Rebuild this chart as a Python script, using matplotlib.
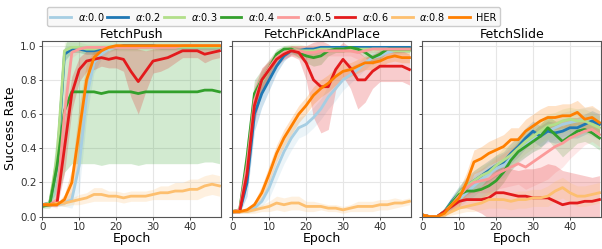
#!/usr/bin/env python3
import numpy as np
import matplotlib
matplotlib.use('Agg')
import matplotlib.pyplot as plt

# epochs sampled every 2
EPOCHS = np.arange(0, 50, 2)

LABELS = [r'$\alpha$:0.0', r'$\alpha$:0.2', r'$\alpha$:0.3', r'$\alpha$:0.4',
          r'$\alpha$:0.5', r'$\alpha$:0.6', r'$\alpha$:0.8', 'HER']
COLORS = ['#a6cee3', '#1f78b4', '#b2df8a', '#33a02c',
          '#fb9a99', '#e31a1c', '#fdbf6f', '#ff7f00']
TITLES = ['FetchPush', 'FetchPickAndPlace', 'FetchSlide']

# === FetchPush ===
push_a00 = [0.07, 0.07, 0.07, 0.08, 0.10, 0.30, 0.70, 0.90, 0.95, 0.98, 0.99, 0.99, 0.99,
            0.99, 0.99, 0.99, 0.99, 0.99, 0.99, 1.00, 0.99, 0.99, 0.99, 0.99, 0.99]
push_a00_sd = [0.01, 0.01, 0.01, 0.02, 0.05, 0.15, 0.12, 0.06, 0.03, 0.02, 0.01, 0.01, 0.01,
               0.01, 0.01, 0.01, 0.01, 0.01, 0.01, 0.01, 0.01, 0.01, 0.01, 0.01, 0.01]
push_a02 = [0.07, 0.08, 0.30, 0.95, 0.98, 0.98, 0.97, 0.97, 0.98, 0.99, 0.99, 1.00, 1.00,
            1.00, 1.00, 1.00, 0.99, 0.99, 0.99, 0.99, 0.99, 0.99, 0.99, 0.99, 0.99]
push_a02_sd = [0.01, 0.01, 0.15, 0.04, 0.02, 0.02, 0.02, 0.02, 0.01, 0.01, 0.01, 0.01, 0.01,
               0.01, 0.01, 0.01, 0.01, 0.01, 0.01, 0.01, 0.01, 0.01, 0.01, 0.01, 0.01]
push_a03 = [0.07, 0.08, 0.35, 0.97, 0.99, 0.99, 0.98, 0.98, 0.99, 0.99, 0.99, 0.99, 0.99,
            0.99, 0.99, 0.99, 0.99, 0.99, 0.99, 0.99, 0.99, 0.99, 0.99, 0.99, 0.99]
push_a03_sd = [0.01, 0.02, 0.15, 0.05, 0.03, 0.03, 0.03, 0.03, 0.02, 0.02, 0.02, 0.02, 0.02,
               0.02, 0.02, 0.02, 0.02, 0.02, 0.02, 0.02, 0.02, 0.02, 0.02, 0.02, 0.02]
push_a04 = [0.06, 0.07, 0.30, 0.62, 0.73, 0.73, 0.73, 0.73, 0.72, 0.73, 0.73, 0.73, 0.73,
            0.72, 0.73, 0.73, 0.73, 0.73, 0.73, 0.73, 0.73, 0.73, 0.74, 0.74, 0.73]
push_a04_sd = [0.01, 0.02, 0.20, 0.36, 0.42, 0.42, 0.42, 0.42, 0.42, 0.42, 0.42, 0.42, 0.42,
               0.42, 0.42, 0.42, 0.42, 0.42, 0.42, 0.42, 0.42, 0.42, 0.42, 0.42, 0.42]
push_a05 = [0.07, 0.07, 0.10, 0.60, 0.96, 0.98, 0.99, 0.99, 0.99, 0.99, 0.99, 0.99, 0.99,
            0.99, 0.99, 0.99, 0.99, 0.99, 0.99, 1.00, 1.00, 1.00, 1.00, 1.00, 1.00]
push_a05_sd = [0.01, 0.01, 0.05, 0.15, 0.03, 0.02, 0.01, 0.01, 0.01, 0.01, 0.01, 0.01, 0.01,
               0.01, 0.01, 0.01, 0.01, 0.01, 0.01, 0.01, 0.01, 0.01, 0.01, 0.01, 0.01]
push_a06 = [0.07, 0.07, 0.08, 0.40, 0.72, 0.86, 0.91, 0.92, 0.93, 0.92, 0.93, 0.92, 0.85,
            0.79, 0.85, 0.91, 0.92, 0.93, 0.95, 0.97, 0.97, 0.97, 0.95, 0.96, 0.97]
push_a06_sd = [0.01, 0.01, 0.02, 0.15, 0.10, 0.07, 0.06, 0.06, 0.05, 0.05, 0.06, 0.07, 0.15,
               0.19, 0.12, 0.07, 0.07, 0.06, 0.05, 0.04, 0.04, 0.04, 0.05, 0.04, 0.04]
push_a08 = [0.07, 0.07, 0.08, 0.08, 0.09, 0.10, 0.11, 0.13, 0.13, 0.12, 0.12, 0.11, 0.12,
            0.12, 0.12, 0.13, 0.14, 0.14, 0.15, 0.15, 0.16, 0.16, 0.18, 0.19, 0.18]
push_a08_sd = [0.01, 0.01, 0.01, 0.02, 0.02, 0.03, 0.03, 0.04, 0.04, 0.03, 0.03, 0.03, 0.03,
               0.03, 0.03, 0.03, 0.04, 0.04, 0.05, 0.05, 0.06, 0.06, 0.06, 0.06, 0.06]
push_her = [0.07, 0.07, 0.07, 0.10, 0.20, 0.50, 0.80, 0.93, 0.97, 0.99, 1.00, 1.00, 1.00,
            1.00, 1.00, 1.00, 1.00, 1.00, 1.00, 1.00, 1.00, 1.00, 1.00, 1.00, 1.00]
push_her_sd = [0.01, 0.01, 0.01, 0.03, 0.08, 0.15, 0.10, 0.04, 0.02, 0.01, 0.01, 0.01, 0.01,
               0.01, 0.01, 0.01, 0.01, 0.01, 0.01, 0.01, 0.01, 0.01, 0.01, 0.01, 0.01]

# === FetchPickAndPlace ===
pick_a00 = [0.03, 0.03, 0.03, 0.05, 0.09, 0.17, 0.28, 0.38, 0.46, 0.52, 0.54, 0.58, 0.63,
            0.70, 0.75, 0.80, 0.83, 0.86, 0.90, 0.93, 0.94, 0.96, 0.97, 0.98, 0.98]
pick_a00_sd = [0.01, 0.01, 0.01, 0.02, 0.03, 0.06, 0.07, 0.07, 0.07, 0.06, 0.06, 0.06, 0.06,
               0.07, 0.07, 0.06, 0.05, 0.04, 0.04, 0.03, 0.03, 0.02, 0.02, 0.02, 0.02]
pick_a02 = [0.03, 0.03, 0.20, 0.60, 0.72, 0.80, 0.88, 0.94, 0.97, 0.97, 0.98, 0.98, 0.99,
            0.99, 0.99, 0.99, 0.99, 0.99, 0.99, 0.99, 0.99, 0.99, 0.99, 0.99, 0.99]
pick_a02_sd = [0.01, 0.01, 0.08, 0.10, 0.08, 0.06, 0.04, 0.03, 0.02, 0.02, 0.01, 0.01, 0.01,
               0.01, 0.01, 0.01, 0.01, 0.01, 0.01, 0.01, 0.01, 0.01, 0.01, 0.01, 0.01]
pick_a03 = [0.03, 0.04, 0.28, 0.68, 0.79, 0.86, 0.93, 0.97, 0.98, 0.97, 0.97, 0.97, 0.98,
            0.98, 0.98, 0.98, 0.98, 0.98, 0.98, 0.98, 0.98, 0.98, 0.97, 0.97, 0.97]
pick_a03_sd = [0.01, 0.01, 0.10, 0.08, 0.06, 0.05, 0.04, 0.03, 0.03, 0.04, 0.03, 0.03, 0.02,
               0.02, 0.02, 0.02, 0.02, 0.02, 0.02, 0.02, 0.02, 0.02, 0.02, 0.02, 0.02]
pick_a04 = [0.03, 0.04, 0.35, 0.72, 0.80, 0.87, 0.95, 0.98, 0.98, 0.96, 0.94, 0.93, 0.94,
            0.97, 0.98, 0.98, 0.99, 0.98, 0.96, 0.93, 0.95, 0.98, 0.98, 0.98, 0.98]
pick_a04_sd = [0.01, 0.01, 0.10, 0.08, 0.06, 0.05, 0.03, 0.02, 0.02, 0.03, 0.04, 0.05, 0.05,
               0.03, 0.02, 0.02, 0.01, 0.02, 0.03, 0.04, 0.03, 0.02, 0.02, 0.02, 0.02]
pick_a05 = [0.03, 0.04, 0.30, 0.68, 0.80, 0.87, 0.93, 0.96, 0.97, 0.97, 0.96, 0.96, 0.97,
            0.97, 0.97, 0.97, 0.97, 0.96, 0.97, 0.98, 0.98, 0.98, 0.98, 0.98, 0.98]
pick_a05_sd = [0.01, 0.01, 0.10, 0.10, 0.07, 0.05, 0.04, 0.03, 0.03, 0.03, 0.04, 0.04, 0.03,
               0.03, 0.03, 0.03, 0.03, 0.04, 0.03, 0.02, 0.02, 0.02, 0.02, 0.02, 0.02]
pick_a06 = [0.03, 0.03, 0.25, 0.65, 0.80, 0.86, 0.92, 0.95, 0.97, 0.96, 0.90, 0.80, 0.76,
            0.76, 0.86, 0.92, 0.87, 0.80, 0.80, 0.85, 0.88, 0.88, 0.88, 0.88, 0.86]
pick_a06_sd = [0.01, 0.01, 0.06, 0.10, 0.07, 0.05, 0.04, 0.03, 0.03, 0.04, 0.10, 0.22, 0.27,
               0.25, 0.12, 0.10, 0.12, 0.17, 0.13, 0.10, 0.09, 0.09, 0.09, 0.09, 0.09]
pick_a08 = [0.03, 0.03, 0.03, 0.04, 0.05, 0.06, 0.08, 0.07, 0.08, 0.08, 0.06, 0.06, 0.06,
            0.05, 0.05, 0.04, 0.05, 0.06, 0.06, 0.06, 0.07, 0.07, 0.08, 0.08, 0.09]
pick_a08_sd = [0.01, 0.01, 0.01, 0.02, 0.02, 0.03, 0.04, 0.04, 0.04, 0.04, 0.03, 0.03, 0.02,
               0.02, 0.02, 0.02, 0.02, 0.03, 0.03, 0.03, 0.03, 0.03, 0.03, 0.02, 0.02]
pick_her = [0.03, 0.03, 0.04, 0.07, 0.14, 0.25, 0.37, 0.46, 0.53, 0.60, 0.65, 0.71, 0.75,
            0.78, 0.82, 0.85, 0.86, 0.88, 0.90, 0.90, 0.91, 0.93, 0.94, 0.93, 0.93]
pick_her_sd = [0.01, 0.01, 0.01, 0.02, 0.04, 0.05, 0.05, 0.05, 0.05, 0.05, 0.05, 0.05, 0.05,
               0.05, 0.05, 0.05, 0.04, 0.04, 0.04, 0.04, 0.04, 0.03, 0.03, 0.03, 0.03]

# === FetchSlide ===
slide_a00 = [0.01, 0.00, 0.00, 0.02, 0.06, 0.10, 0.14, 0.18, 0.22, 0.25, 0.28, 0.30, 0.34,
             0.38, 0.42, 0.45, 0.48, 0.50, 0.52, 0.54, 0.55, 0.56, 0.57, 0.57, 0.55]
slide_a00_sd = [0.01, 0.01, 0.01, 0.02, 0.03, 0.04, 0.05, 0.06, 0.06, 0.07, 0.07, 0.07, 0.07,
                0.07, 0.07, 0.07, 0.07, 0.07, 0.07, 0.07, 0.07, 0.07, 0.07, 0.07, 0.07]
slide_a02 = [0.01, 0.00, 0.00, 0.03, 0.09, 0.14, 0.18, 0.21, 0.24, 0.27, 0.30, 0.32, 0.37,
             0.41, 0.46, 0.50, 0.47, 0.50, 0.49, 0.50, 0.52, 0.52, 0.54, 0.56, 0.54]
slide_a02_sd = [0.01, 0.01, 0.01, 0.02, 0.03, 0.04, 0.05, 0.06, 0.06, 0.06, 0.06, 0.06, 0.06,
                0.06, 0.06, 0.06, 0.06, 0.06, 0.06, 0.06, 0.06, 0.06, 0.06, 0.06, 0.06]
slide_a03 = [0.01, 0.00, 0.00, 0.03, 0.08, 0.14, 0.18, 0.21, 0.24, 0.26, 0.30, 0.33, 0.36,
             0.40, 0.44, 0.47, 0.50, 0.53, 0.54, 0.56, 0.57, 0.56, 0.56, 0.54, 0.52]
slide_a03_sd = [0.01, 0.01, 0.01, 0.02, 0.03, 0.04, 0.05, 0.06, 0.06, 0.06, 0.06, 0.07, 0.07,
                0.07, 0.07, 0.07, 0.07, 0.07, 0.07, 0.07, 0.07, 0.07, 0.07, 0.07, 0.07]
slide_a04 = [0.01, 0.00, 0.00, 0.03, 0.08, 0.13, 0.15, 0.15, 0.16, 0.18, 0.21, 0.26, 0.33,
             0.38, 0.41, 0.44, 0.47, 0.52, 0.48, 0.44, 0.47, 0.50, 0.51, 0.49, 0.46]
slide_a04_sd = [0.01, 0.01, 0.01, 0.02, 0.03, 0.04, 0.04, 0.05, 0.05, 0.05, 0.06, 0.06, 0.06,
                0.06, 0.06, 0.06, 0.07, 0.07, 0.08, 0.09, 0.08, 0.07, 0.07, 0.07, 0.07]
slide_a05 = [0.01, 0.00, 0.00, 0.03, 0.07, 0.12, 0.17, 0.20, 0.21, 0.22, 0.25, 0.27, 0.29,
             0.31, 0.29, 0.32, 0.35, 0.38, 0.41, 0.43, 0.46, 0.48, 0.50, 0.51, 0.48]
slide_a05_sd = [0.01, 0.01, 0.01, 0.02, 0.03, 0.04, 0.05, 0.06, 0.07, 0.08, 0.09, 0.10, 0.11,
                0.12, 0.13, 0.14, 0.15, 0.16, 0.15, 0.14, 0.12, 0.10, 0.08, 0.07, 0.07]
slide_a06 = [0.01, 0.00, 0.00, 0.03, 0.06, 0.09, 0.10, 0.10, 0.10, 0.11, 0.14, 0.14, 0.13,
             0.12, 0.12, 0.11, 0.11, 0.11, 0.09, 0.07, 0.08, 0.08, 0.09, 0.09, 0.10]
slide_a06_sd = [0.01, 0.01, 0.01, 0.02, 0.03, 0.04, 0.05, 0.06, 0.08, 0.12, 0.15, 0.15, 0.15,
                0.15, 0.16, 0.17, 0.18, 0.20, 0.21, 0.20, 0.18, 0.17, 0.15, 0.14, 0.14]
slide_a08 = [0.01, 0.00, 0.00, 0.01, 0.03, 0.05, 0.06, 0.07, 0.08, 0.10, 0.10, 0.10, 0.09,
             0.10, 0.10, 0.11, 0.11, 0.12, 0.15, 0.17, 0.14, 0.12, 0.12, 0.13, 0.14]
slide_a08_sd = [0.01, 0.01, 0.01, 0.01, 0.02, 0.03, 0.03, 0.04, 0.04, 0.05, 0.05, 0.05, 0.05,
                0.05, 0.05, 0.05, 0.05, 0.06, 0.06, 0.06, 0.06, 0.06, 0.06, 0.06, 0.06]
slide_her = [0.01, 0.00, 0.00, 0.02, 0.07, 0.11, 0.20, 0.32, 0.34, 0.37, 0.39, 0.41, 0.45,
             0.45, 0.50, 0.53, 0.56, 0.58, 0.58, 0.59, 0.59, 0.61, 0.57, 0.58, 0.55]
slide_her_sd = [0.01, 0.01, 0.01, 0.02, 0.03, 0.05, 0.06, 0.07, 0.07, 0.07, 0.07, 0.07, 0.07,
                0.07, 0.07, 0.07, 0.07, 0.07, 0.07, 0.07, 0.07, 0.07, 0.07, 0.07, 0.07]

PANELS = [
    [(push_a00, push_a00_sd), (push_a02, push_a02_sd), (push_a03, push_a03_sd),
     (push_a04, push_a04_sd), (push_a05, push_a05_sd), (push_a06, push_a06_sd),
     (push_a08, push_a08_sd), (push_her, push_her_sd)],
    [(pick_a00, pick_a00_sd), (pick_a02, pick_a02_sd), (pick_a03, pick_a03_sd),
     (pick_a04, pick_a04_sd), (pick_a05, pick_a05_sd), (pick_a06, pick_a06_sd),
     (pick_a08, pick_a08_sd), (pick_her, pick_her_sd)],
    [(slide_a00, slide_a00_sd), (slide_a02, slide_a02_sd), (slide_a03, slide_a03_sd),
     (slide_a04, slide_a04_sd), (slide_a05, slide_a05_sd), (slide_a06, slide_a06_sd),
     (slide_a08, slide_a08_sd), (slide_her, slide_her_sd)],
]

fig = plt.figure(figsize=(6.02, 2.49), dpi=100)
W, H = 602.0, 249.0
lefts = [42.3, 232.3, 422.3]
axes = []
for i, left in enumerate(lefts):
    ax = fig.add_axes([left / W, 32.3 / H, 179.0 / W, 176.0 / H])
    axes.append(ax)

handles = []
for i, ax in enumerate(axes):
    for j, (mean, sd) in enumerate(PANELS[i]):
        m = np.array(mean)
        s = np.array(sd)
        ax.fill_between(EPOCHS, m - s, m + s, color=COLORS[j], alpha=0.22, lw=0)
        line, = ax.plot(EPOCHS, m, color=COLORS[j], lw=2.0, label=LABELS[j])
        if i == 0:
            handles.append(line)
    ax.set_xlim(0, 48.5)
    ax.set_ylim(0, 1.029)
    ax.set_xticks([0, 10, 20, 30, 40])
    ax.set_yticks([0.0, 0.2, 0.4, 0.6, 0.8, 1.0])
    ax.grid(True, color='#e6e6e6', lw=0.8)
    ax.set_axisbelow(True)
    ax.set_title(TITLES[i], fontsize=9, pad=2)
    ax.set_xlabel('Epoch', fontsize=9, labelpad=0)
    ax.tick_params(labelsize=7.5, length=2.5, width=0.6, pad=1.5, colors='#333333')
    for sp in ax.spines.values():
        sp.set_color('#555555')
        sp.set_linewidth(0.8)
    if i == 0:
        ax.set_ylabel('Success Rate', fontsize=9, labelpad=2)
    else:
        ax.set_yticklabels([])

fig.legend(handles=handles, loc='upper center', bbox_to_anchor=(0.4543, 0.99),
           ncol=8, fontsize=7, handlelength=2.1, handletextpad=0.7,
           columnspacing=0.35, frameon=True, borderpad=0.35,
           edgecolor='#cccccc', facecolor='#f8f8f8', framealpha=1.0)

fig.savefig('out.png', dpi=100)
